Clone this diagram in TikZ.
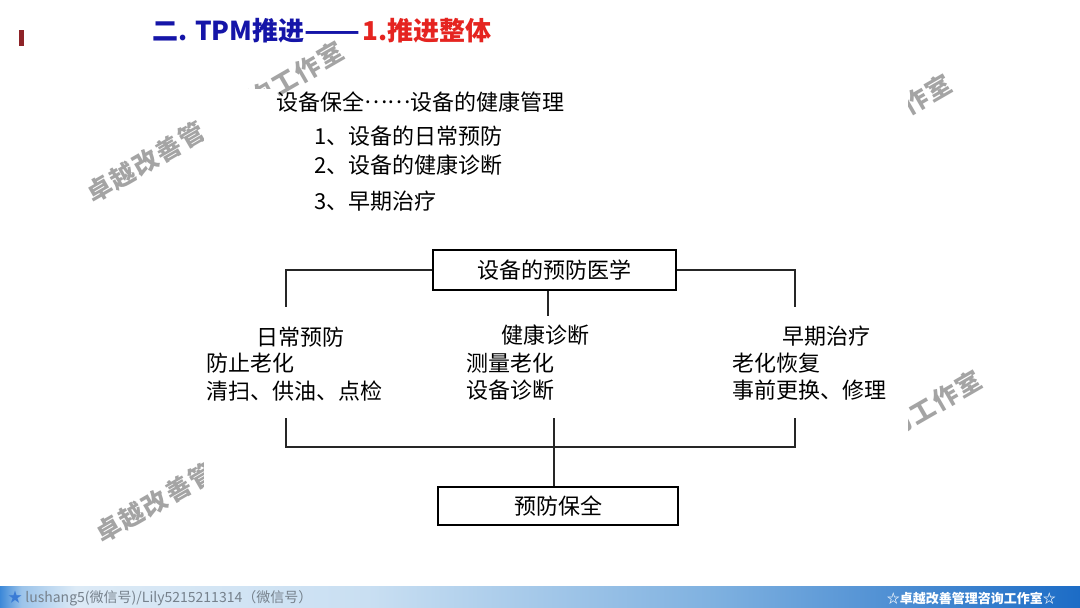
\documentclass[tikz,border=0pt]{standalone}
\usepackage{fontspec}
\usepackage{graphicx}
\setmainfont{Noto Sans CJK SC}
\newfontfamily\wmfont{Noto Sans CJK SC}[LetterSpace=7]
\definecolor{tblue}{HTML}{1515A8}
\definecolor{tred}{HTML}{E52420}
\definecolor{barred}{HTML}{8E2328}
\definecolor{wmgray}{HTML}{A4A4A4}
\definecolor{fA}{HTML}{3C88D8}
\definecolor{fB}{HTML}{9CC4EA}
\definecolor{fC}{HTML}{DCEAF6}
\definecolor{fCC}{HTML}{C9DFF2}
\definecolor{fD}{HTML}{7FB1E0}
\definecolor{fE}{HTML}{1C6CC6}
\definecolor{footgray}{HTML}{76818C}
\definecolor{starblue}{HTML}{3A7BD5}
\pgfdeclarehorizontalshading{footershade}{100bp}{color(0bp)=(fA); color(25bp)=(fA); color(26bp)=(fB); color(28.5bp)=(fC); color(42bp)=(fCC); color(58bp)=(fD); color(75bp)=(fE); color(100bp)=(fE)}
\begin{document}
\begin{tikzpicture}[x=1pt,y=-1pt,
  txt/.style={inner sep=0pt,font=\fontsize{22}{26}\selectfont},
  boxnode/.style={draw=black,line width=1.3pt,inner sep=0pt,font=\fontsize{22}{26}\selectfont},
  conn/.style={line width=1.3pt,draw=black!85},
  wm/.style={inner sep=0pt,rotate=30,text=wmgray,font=\wmfont\bfseries\fontsize{25}{30}\selectfont},
  title/.style={inner sep=0pt,anchor=west,font=\bfseries\fontsize{26}{30}\selectfont}]
\useasboundingbox (0,0) rectangle (1080,608);
\fill[white] (0,0) rectangle (1080,608);
% ---- visible watermark fragments ----
\begin{scope}
\clip (0,0) rectangle (203,586);
\node[wm] (wmA1) at (145.5,162.1) {卓越改善管};
\node[wm] (wmB1) at (155,502.6) {卓越改善管};
\end{scope}
\begin{scope}
\clip (203,0) -- (908,0) -- (908,120) -- (276,120) -- (276,88) -- (203,88) -- cycle;
\node[wm] (wmA2) at (296.1,75.2) {询工作室};
\end{scope}
\begin{scope}
\clip (908,0) rectangle (1080,586);
\node[wm] (wmC1) at (926.8,94.3) {作室};
\node[wm] (wmD1) at (933.6,403.7) {询工作室};
\end{scope}
% ---- title ----
\fill[barred] (19,30) rectangle (24,46);
\node[title,text=tblue] (tb) at (152,31) {二. TPM推进\resizebox{56pt}{\height}{——}};
\node[title,text=tred] (tr) at (362,31) {1.推进整体};
% ---- list ----
\node[txt,anchor=west] (l0) at (276,102) {设备保全\raisebox{7pt}{……}设备的健康管理};
\node[txt,anchor=west] (l1) at (314,136) {1、设备的日常预防};
\node[txt,anchor=west] (l2) at (314,165) {2、设备的健康诊断};
\node[txt,anchor=west] (l3) at (314,201) {3、早期治疗};
% ---- diagram ----
\node[boxnode,minimum width=243pt,minimum height=40pt] (top) at (554.5,270) {设备的预防医学};
\coordinate (lt) at (286,307);
\coordinate (rt) at (795,307);
\coordinate (mt) at (548,316);
\draw[conn] (top.west) -| (lt);
\draw[conn] (top.east) -| (rt);
\draw[conn] (top.south -| mt) -- (mt);
\node[txt] (h1) at (300,337) {日常预防};
\node[txt,anchor=west] (a1) at (206,363) {防止老化};
\node[txt,anchor=west] (b1) at (206,391) {清扫、供油、点检};
\node[txt] (h2) at (545,335) {健康诊断};
\node[txt,anchor=west] (a2) at (466,363) {测量老化};
\node[txt,anchor=west] (b2) at (466,390) {设备诊断};
\node[txt] (h3) at (826,336) {早期治疗};
\node[txt,anchor=west] (a3) at (732,363) {老化恢复};
\node[txt,anchor=west] (b3) at (732,390) {事前更换、修理};
\node[boxnode,minimum width=240pt,minimum height=38pt] (bot) at (558,506) {预防保全};
\coordinate (lb) at (286,418);
\coordinate (lbb) at (286,447);
\coordinate (rb) at (795,418);
\coordinate (rbb) at (795,447);
\coordinate (mb) at (554,418);
\draw[conn] (lb) -- (lbb) -- (rbb) -- (rb);
\draw[conn] (mb) -- (bot.north -| mb);
% ---- footer ----
\shade[shading=footershade] (0,586) rectangle (1080,608);
\node[anchor=west,inner sep=0pt,font=\fontsize{14}{16}\selectfont,text=footgray] (fl) at (8,598) {\textcolor{starblue}{★} lushang5(微信号)/Lily5215211314（微信号）};
\node[anchor=east,inner sep=0pt,font=\bfseries\fontsize{13}{15}\selectfont,text=white] (fr) at (1056,598) {☆卓越改善管理咨询工作室☆};
\end{tikzpicture}
\end{document}
